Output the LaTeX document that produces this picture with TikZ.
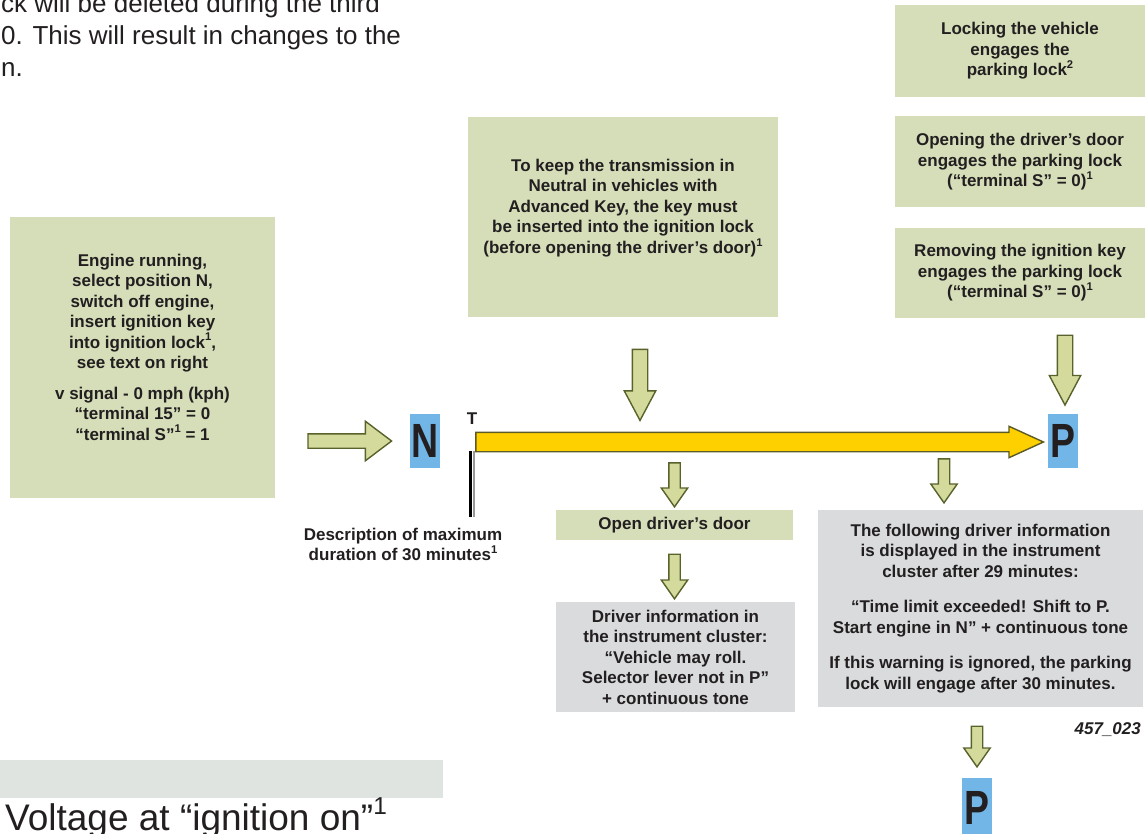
\documentclass[tikz,border=0pt]{standalone}
\usepackage{fontspec}
\setmainfont{Liberation Sans}
\usepackage{xcolor}
\usepackage{tikz}
\usetikzlibrary{positioning,calc,shapes.arrows}

\definecolor{boxgreen}{HTML}{D5DEB9}
\definecolor{boxgray}{HTML}{D9DBDD}
\definecolor{bandgray}{HTML}{DFE4E0}
\definecolor{gearblue}{HTML}{71B6E6}
\definecolor{arrowfill}{HTML}{D4D99C}
\definecolor{arrowline}{HTML}{59622B}
\definecolor{timebar}{HTML}{FFD000}
\definecolor{barline}{HTML}{5C5B25}
\definecolor{ink}{HTML}{231F20}

% footnote marks, scaled with the running font
\newcommand{\fnote}[1]{\raisebox{.42em}{\scalebox{.66}{#1}}}

% block arrow between two points: style, from, to
\newcommand{\fatarrow}[3]{%
  \path let \p1=#2, \p2=#3,
    \n1={atan2(\y2-\y1,\x2-\x1)},
    \n2={veclen(\x2-\x1,\y2-\y1)} in
    node[#1, minimum height=\n2, rotate=\n1] at ($(\p1)!.5!(\p2)$) {};}

\begin{document}
\begin{tikzpicture}[x=1pt, y=-1pt, text=ink,
    box/.style={inner sep=0pt, align=center, font=\fontsize{17}{20.5}\selectfont\bfseries},
    greenbox/.style={box, fill=boxgreen},
    graybox/.style={box, fill=boxgray},
    gear/.style={fill=gearblue, inner sep=0pt, minimum width=30pt, minimum height=54pt,
      font=\fontsize{48}{48}\selectfont\bfseries},
    hollow/.style={single arrow, draw=arrowline, fill=arrowfill, line width=1.4pt,
      inner sep=0pt, minimum width=0pt, single arrow head indent=0pt},
    leftarr/.style={hollow, inner ysep=6.5pt, single arrow head extend=12.5pt, single arrow tip angle=74},
    bigdown/.style={hollow, inner ysep=7pt, single arrow head extend=8pt, single arrow tip angle=56},
    smalldown/.style={hollow, inner ysep=5pt, single arrow head extend=7.5pt, single arrow tip angle=70},
    timearr/.style={single arrow, draw=barline, fill=timebar, line width=1.4pt, inner sep=0pt,
      minimum width=0pt, inner ysep=9pt, single arrow head extend=6pt, single arrow tip angle=49}]
  \useasboundingbox (0,0) rectangle (1147,834);

  \node[anchor=north west, inner sep=0pt, align=left, font=\fontsize{26}{32}\selectfont] (intro) at (1,-7)
    {ck will be deleted during the third\\0. This will result in changes to the\\n.};

  \node[greenbox, minimum width=265pt, minimum height=281pt] (engine) at (142.5,357.5) {};
  \node[box] (enginetxt) at (142.5,347) {Engine running,\\ select position N,\\ switch off engine,\\
    insert ignition key\\ into ignition lock\fnote{1},\\ see text on right\\[10pt]
    v signal - 0 mph (kph)\\ “terminal 15” = 0\\ “terminal S”\fnote{1} = 1};

  \node[greenbox, minimum width=310pt, minimum height=200pt] (keybox) at (623,217) {};
  \node[box] (keytxt) at (623,208) {To keep the transmission in\\ Neutral in vehicles with\\
    Advanced Key, the key must\\ be inserted into the ignition lock\\ (before opening the driver’s door)\fnote{1}};

  \node[greenbox, minimum width=250pt, minimum height=92pt] (locking) at (1020,51)
    {Locking the vehicle\\ engages the\\ parking lock\fnote{2}};
  \node[greenbox, minimum width=250pt, minimum height=91pt] (opening) [below=19pt of locking]
    {Opening the driver’s door\\ engages the parking lock\\ (“terminal S” = 0)\fnote{1}};
  \node[greenbox, minimum width=250pt, minimum height=90pt] (removing) [below=20pt of opening]
    {Removing the ignition key\\ engages the parking lock\\ (“terminal S” = 0)\fnote{1}};

  \node[gear] (ngear) at (425,441) {\scalebox{0.78}[1]{N}};
  \node[gear] (pgear) at (1063,441) {\scalebox{0.78}[1]{P}};
  \node[gear, minimum height=60pt] (pend) at (977,808) {\scalebox{0.78}[1]{P}};

  \node[greenbox, minimum width=237pt, minimum height=30pt] (opendoor) at (674.5,525) {Open driver’s door};
  \node[graybox, minimum width=239pt, minimum height=110pt] (rollinfo) at (675.5,657)
    {Driver information in\\ the instrument cluster:\\ “Vehicle may roll.\\ Selector lever not in P”\\ + continuous tone};
  \node[graybox, minimum width=325pt, minimum height=197pt] (warning) at (980.5,608.5)
    {The following driver information\\ is displayed in the instrument\\ cluster after 29 minutes:\\[15pt]
    “Time limit exceeded! Shift to P.\\ Start engine in N” + continuous tone\\[15pt]
    If this warning is ignored, the parking\\ lock will engage after 30 minutes.};

  \coordinate (tstart) at ($(ngear.east)+(25,1)$);
  \coordinate (tick) at ($(tstart)+(5.5,9)$);
  \coordinate (tickend) at ($(tick)+(0,66)$);
  \draw[line width=3pt, black] (tick) -- (tickend);
  \draw[line width=1.5pt, black!40] ($(tick)+(3.5,0)$) -- ($(tickend)+(3.5,0)$);
  \node[box] (tlabel) at (472,419) {T};
  \node[box] (desc) at (403,544.5) {Description of maximum\\ duration of 30 minutes\fnote{1}};

  \fatarrow{timearr}{(tstart)}{($(pgear.west)+(-15,1)$)}
  \fatarrow{leftarr}{($(engine.east |- ngear.west)+(28,0)$)}{($(ngear.west)+(-23,0)$)}
  \fatarrow{bigdown}{($(keybox.south)+(17,25)$)}{($(keybox.south)+(17,96)$)}
  \fatarrow{bigdown}{($(removing.south -| pgear)+(2,10)$)}{($(pgear.north)+(2,-16)$)}
  \fatarrow{smalldown}{($(opendoor.north)+(0,-51)$)}{($(opendoor.north)+(0,-7)$)}
  \fatarrow{smalldown}{($(opendoor.south)+(0,10)$)}{($(opendoor.south |- rollinfo.north)+(0,-7)$)}
  \fatarrow{smalldown}{($(warning.north)+(-36.5,-55)$)}{($(warning.north)+(-36.5,-11)$)}
  \fatarrow{smalldown}{($(pend.north |- warning.south)+(0,15)$)}{($(pend.north)+(0,-15)$)}

  \node[anchor=east, inner sep=0pt, font=\fontsize{17}{20}\selectfont\bfseries\itshape] (figno) at (1141,730) {457\_023};

  \node[fill=bandgray, inner sep=0pt, minimum width=443pt, minimum height=38pt, anchor=north west] (band) at (0,760) {};
  \node[anchor=base west, inner sep=0pt, font=\fontsize{37}{40}\selectfont] (voltage) at (5,830) {Voltage at “ignition on”\fnote{1}};
\end{tikzpicture}
\end{document}
